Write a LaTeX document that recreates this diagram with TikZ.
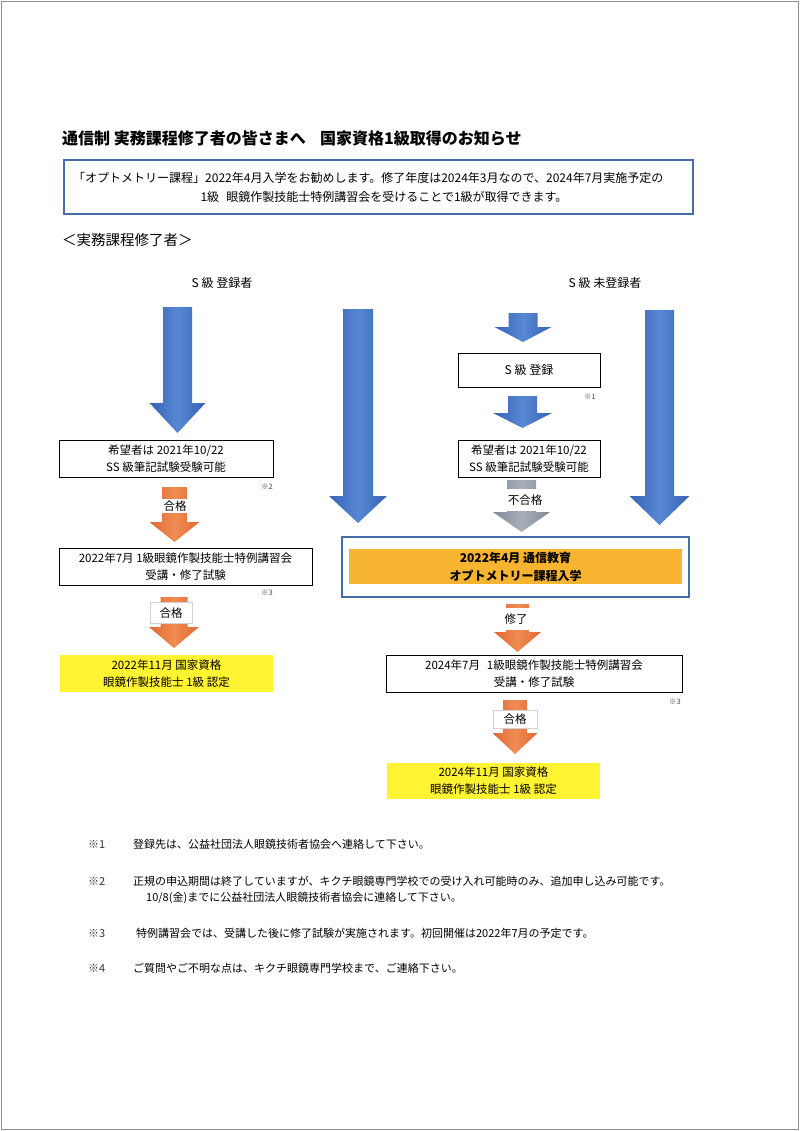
\documentclass[tikz,border=0pt]{standalone}
\usepackage{fontspec}
\setmainfont{Noto Sans CJK JP}
\definecolor{blueD}{RGB}{54,98,182}
\definecolor{blueL}{RGB}{88,136,212}
\definecolor{orD}{RGB}{226,104,52}
\definecolor{orL}{RGB}{240,140,82}
\definecolor{grD}{RGB}{128,138,150}
\definecolor{grL}{RGB}{168,176,186}
\definecolor{frameblue}{RGB}{72,108,166}
\definecolor{gold}{RGB}{246,180,49}
\definecolor{ylw}{RGB}{255,243,50}
\newcommand{\barrow}[8]{%
  \path[#1] (#2-#4/2,#3) -- (#2+#4/2,#3) -- (#2+#4/2,#5) -- (#2+#6/2,#5)
    -- (#2,#7) -- (#2-#6/2,#5) -- (#2-#4/2,#5) -- cycle;
  \coordinate (#8-top) at (#2,#3);
  \coordinate (#8-tip) at (#2,#7);}
\begin{document}
\begin{tikzpicture}[x=1pt,y=-1pt,
  txt/.style={inner sep=0pt, font=\fontsize{12}{14}\selectfont},
  wbox/.style={draw=black, line width=0.8pt, fill=white, inner sep=0pt, align=center,
    font=\fontsize{11.5}{17}\selectfont},
  ybox/.style={fill=ylw, inner sep=0pt, align=center, font=\fontsize{11.5}{17}\selectfont},
  lab/.style={fill=white, inner sep=1.5pt, font=\fontsize{11.5}{13}\selectfont},
  labb/.style={lab, draw=gray!35, line width=0.4pt},
  refmark/.style={inner sep=0pt, font=\fontsize{7.5}{9}\selectfont, text=black!70},
  fmark/.style={inner sep=0pt, anchor=west, font=\fontsize{11}{13}\selectfont, text=black!80},
  foot/.style={inner sep=0pt, anchor=west, font=\fontsize{11}{13}\selectfont},
  bluearr/.style={left color=blueD, right color=blueD, middle color=blueL},
  orarr/.style={left color=orD, right color=orD, middle color=orL},
  grarr/.style={left color=grD, right color=grD, middle color=grL}
]
\useasboundingbox (0,0) rectangle (800,1131);
\draw[black!45, line width=0.8pt] (1,1) rectangle (798,1129);

% title
\node[inner sep=0pt, anchor=west, font=\fontsize{16}{18}\selectfont\bfseries] (title) at (62,138)
  {通信制 実務課程修了者の皆さまへ\hspace{0.9em}国家資格1級取得のお知らせ};

% header box
\node[draw=frameblue, line width=2pt, minimum width=629pt, minimum height=54pt, inner sep=0pt] (hbox) at (378.5,187) {};
\node[txt, anchor=west] (h1) at (73,178)
  {「オプトメトリー課程」2022年4月入学をお勧めします。修了年度は2024年3月なので、2024年7月実施予定の};
\node[txt] (h2) at (384,197) {1級\hspace{0.6em}眼鏡作製技能士特例講習会を受けることで1級が取得できます。};

\node[inner sep=0pt, anchor=west, font=\fontsize{14.5}{16}\selectfont] (sect) at (62,240) {＜実務課程修了者＞};

\node[txt] (hdL) at (222,283) {S 級 登録者};
\node[txt] (hdR) at (605,283) {S 級 未登録者};

% blue arrows
\barrow{bluearr}{177.5}{307}{29}{403}{56}{433}{aL}
\barrow{bluearr}{358}{309}{30}{496}{58}{523}{aM}
\barrow{bluearr}{659.5}{310}{29}{496}{60}{525}{aR}
\barrow{bluearr}{523}{313}{29}{327}{57}{342}{aS1}
\barrow{bluearr}{522.5}{396}{29}{413}{59}{428}{aS2}

% boxes
\node[wbox, minimum width=142pt, minimum height=34pt, font=\fontsize{12}{14}\selectfont] (sreg) at (529,370) {S 級 登録};
\node[refmark] (m1) at (590,397) {※1};

\node[wbox, minimum width=214pt, minimum height=37pt] (lb1) at (166,458.5)
  {希望者は 2021年10/22\\SS 級筆記試験受験可能};
\node[refmark] (m2) at (267,487) {※2};

\node[wbox, minimum width=142pt, minimum height=37pt] (rb1) at (529,458.5)
  {希望者は 2021年10/22\\SS 級筆記試験受験可能};

% left chain
\barrow{orarr}{174.5}{487}{25}{522}{50}{542}{oL1}
\node[lab, minimum width=30pt] (pL1) at (175,506) {合格};

\node[wbox, minimum width=253pt, minimum height=37pt] (lb2) at (185.5,566.5)
  {2022年7月 1級眼鏡作製技能士特例講習会\\受講・修了試験};
\node[refmark] (m3L) at (267,593) {※3};

\barrow{orarr}{174}{597}{27}{627}{50}{648}{oL2}
\node[labb, minimum width=42pt, minimum height=21pt] (pL2) at (171,613) {合格};

\node[ybox, minimum width=213pt, minimum height=37pt] (ly) at (166.5,673.5)
  {2022年11月 国家資格\\眼鏡作製技能士 1級 認定};

% right chain
\barrow{grarr}{521.5}{480}{29}{512}{57}{532}{gR}
\node[lab, minimum height=22pt] (fail) at (525,500) {不合格};

\node[draw=frameblue, line width=2pt, minimum width=347pt, minimum height=60pt, inner sep=0pt] (bigo) at (515.5,567) {};
\node[fill=gold, minimum width=333pt, minimum height=35pt, inner sep=0pt, align=center,
  font=\fontsize{12}{18}\selectfont\bfseries] (bigi) at (515.5,566.5)
  {2022年4月 通信教育\\オプトメトリー課程入学};

\barrow{orarr}{517.5}{604}{23}{632}{47}{652}{oR1}
\node[lab, minimum height=22pt, minimum width=40pt] (done) at (516,619) {修了};

\node[wbox, minimum width=296pt, minimum height=37pt] (rb2) at (534,673.5)
  {2024年7月\hspace{0.6em}1級眼鏡作製技能士特例講習会\\受講・修了試験};
\node[refmark] (m3R) at (675,702) {※3};

\barrow{orarr}{515}{700}{24}{733}{45}{754}{oR2}
\node[labb, minimum width=44pt, minimum height=18pt] (pR2) at (515,719) {合格};

\node[ybox, minimum width=213pt, minimum height=36pt] (ry) at (493.5,781)
  {2024年11月 国家資格\\眼鏡作製技能士 1級 認定};

% footnotes
\node[fmark] (f1m) at (88,844) {※1};
\node[foot] (f1) at (133,844) {登録先は、公益社団法人眼鏡技術者協会へ連絡して下さい。};
\node[fmark] (f2m) at (88,881) {※2};
\node[foot] (f2a) at (133,881) {正規の申込期間は終了していますが、キクチ眼鏡専門学校での受け入れ可能時のみ、追加申し込み可能です。};
\node[foot] (f2b) at (146,898) {10/8(金)までに公益社団法人眼鏡技術者協会に連絡して下さい。};
\node[fmark] (f3m) at (88,933) {※3};
\node[foot] (f3) at (136,933) {特例講習会では、受講した後に修了試験が実施されます。初回開催は2022年7月の予定です。};
\node[fmark] (f4m) at (88,968) {※4};
\node[foot] (f4) at (133,968) {ご質問やご不明な点は、キクチ眼鏡専門学校まで、ご連絡下さい。};
\end{tikzpicture}
\end{document}
